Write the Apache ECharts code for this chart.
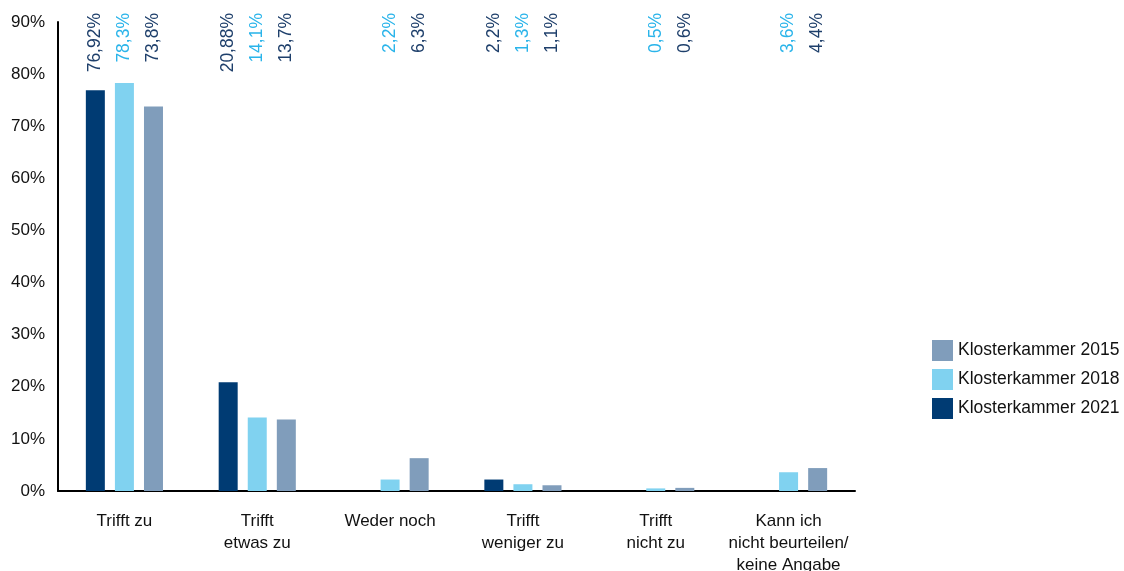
<!DOCTYPE html>
<html>
<head>
<meta charset="utf-8">
<script src="https://cdn.jsdelivr.net/npm/echarts@6/dist/echarts.min.js"></script>
<style>
  html, body { margin: 0; padding: 0; background: #fff; }
  #chart { width: 1124px; height: 571px; }
</style>
</head>
<body>
<div id="chart"></div>
<script>
// Survey answers, three survey waves
const categories = [
  'Trifft zu',
  'Trifft\netwas zu',
  'Weder noch',
  'Trifft\nweniger zu',
  'Trifft\nnicht zu',
  'Kann ich\nnicht beurteilen/\nkeine Angabe'
];
const values2021 = [76.92, 20.88, null, 2.2, null, null];
const values2018 = [78.3, 14.1, 2.2, 1.3, 0.5, 3.6];
const values2015 = [73.8, 13.7, 6.3, 1.1, 0.6, 4.4];
const valueLabels2021 = ['76,92%', '20,88%', '', '2,2%', '', ''];
const valueLabels2018 = ['78,3%', '14,1%', '2,2%', '1,3%', '0,5%', '3,6%'];
const valueLabels2015 = ['73,8%', '13,7%', '6,3%', '1,1%', '0,6%', '4,4%'];
const yTicks = { min: 0, max: 90, interval: 10 };

const FONT = '"Liberation Sans", Arial, sans-serif';

function makeSeries(name, data, labels, barColor, labelColor) {
  return {
    name: name,
    type: 'bar',
    data: data,
    barWidth: 19,
    barGap: '53%',
    itemStyle: { color: barColor },
    label: {
      show: true,
      position: 'top',
      rotate: 90,
      color: labelColor,
      fontFamily: FONT,
      fontSize: 17.5,
      formatter: p => labels[p.dataIndex]
    },
    // value labels sit in a row along the top edge, reading bottom-to-top
    labelLayout: function (params) {
      return {
        x: params.rect.x + params.rect.width / 2,
        y: 13,
        align: 'right',
        verticalAlign: 'middle'
      };
    }
  };
}

const chart = echarts.init(document.getElementById('chart'), null, { renderer: 'canvas' });
chart.setOption({
  animation: false,
  backgroundColor: '#ffffff',
  grid: { left: 58, top: 22, right: 269, bottom: 80, containLabel: false, outerBoundsMode: 'none' },
  legend: {
    orient: 'vertical',
    left: 927,
    top: 335,
    itemWidth: 21,
    itemHeight: 21,
    itemGap: 8,
    data: ['Klosterkammer 2015', 'Klosterkammer 2018', 'Klosterkammer 2021'],
    textStyle: { fontFamily: FONT, fontSize: 17.5, color: '#111', padding: [0, 0, 0, 0] },
    icon: 'rect'
  },
  xAxis: {
    type: 'category',
    data: categories,
    axisLine: { show: true, lineStyle: { color: '#000', width: 2 } },
    axisTick: { show: false },
    axisLabel: {
      interval: 0,
      margin: 19,
      fontFamily: FONT,
      fontSize: 17,
      lineHeight: 22,
      color: '#111'
    }
  },
  yAxis: {
    type: 'value',
    min: yTicks.min,
    max: yTicks.max,
    interval: yTicks.interval,
    axisLine: { show: true, lineStyle: { color: '#000', width: 2 } },
    axisTick: { show: false },
    splitLine: { show: false },
    axisLabel: {
      margin: 13,
      fontFamily: FONT,
      fontSize: 17,
      color: '#111',
      formatter: v => v + '%'
    }
  },
  series: [
    makeSeries('Klosterkammer 2021', values2021, valueLabels2021, '#003b73', '#1e3f6b'),
    makeSeries('Klosterkammer 2018', values2018, valueLabels2018, '#80d2f0', '#2ab4ea'),
    makeSeries('Klosterkammer 2015', values2015, valueLabels2015, '#809dbb', '#1e3f6b')
  ]
});
</script>
</body>
</html>
